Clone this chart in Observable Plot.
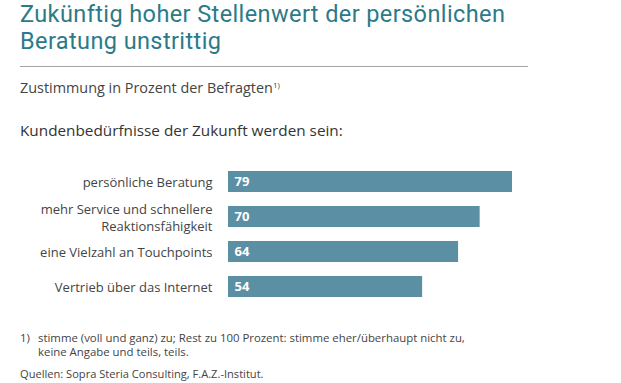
<!DOCTYPE html>
<html>
<head>
<meta charset="utf-8">
<script src="https://cdn.jsdelivr.net/npm/d3@7"></script>
<script src="https://cdn.jsdelivr.net/npm/@observablehq/plot@0.6"></script>
<style>
  html, body { margin: 0; padding: 0; background: #fff; }
  #wrap { position: relative; width: 621px; height: 383px; overflow: hidden; font-family: "Open Sans", Lato, sans-serif; color: #444; }
  .abs { position: absolute; white-space: nowrap; }
  .title { left: 20px; font-family: Roboto, "Open Sans", sans-serif; font-size: 23.5px; line-height: 27px; letter-spacing: 0.4px; color: #2c7a88; }
  #t1 { top: 1px; }
  #t2 { top: 27.5px; }
  #rule { left: 20px; top: 66px; width: 508px; height: 0; border-top: 1.5px solid #a3a3a3; }
  #sub { left: 20px; top: 79px; font-size: 14.4px; line-height: 18px; }
  #sub sup { font-size: 8px; vertical-align: 5px; line-height: 0; }
  #head { left: 20px; top: 121px; font-size: 15.3px; line-height: 18px; color: #333; }
  #chart { left: 0; top: 150px; }
  #fn1 { left: 20px; top: 331px; font-size: 11.4px; line-height: 14px; }
  #fn1 .num { position: absolute; left: 0; top: 0; }
  #fn1 .txt { position: absolute; left: 18px; top: 0; }
  #src { left: 20px; top: 367px; font-size: 11.1px; line-height: 14px; }
</style>
</head>
<body>
<div id="wrap">
  <div id="t1" class="abs title">Zukünftig hoher Stellenwert der persönlichen</div>
  <div id="t2" class="abs title">Beratung unstrittig</div>
  <div id="rule" class="abs"></div>
  <div id="sub" class="abs">Zustimmung in Prozent der Befragten<sup>1)</sup></div>
  <div id="head" class="abs">Kundenbedürfnisse der Zukunft werden sein:</div>
  <div id="chart" class="abs"></div>
  <div id="fn1" class="abs"><span class="num">1)</span><span class="txt">stimme (voll und ganz) zu; Rest zu 100 Prozent: stimme eher/überhaupt nicht zu,<br>keine Angabe und teils, teils.</span></div>
  <div id="src" class="abs">Quellen: Sopra Steria Consulting, F.A.Z.-Institut.</div>
</div>
<script>
const categories = [
  "persönliche Beratung",
  "mehr Service und schnellere\nReaktionsfähigkeit",
  "eine Vielzahl an Touchpoints",
  "Vertrieb über das Internet"
];
const values = [79, 70, 64, 54];

const data = categories.map((c, i) => ({category: c, value: values[i]}));

const chart = Plot.plot({
  width: 621,
  height: 160,
  marginTop: 12,
  marginBottom: 5,
  marginLeft: 228,
  marginRight: 109,
  style: {fontFamily: "'Open Sans', Lato, sans-serif", background: "transparent"},
  x: {domain: [0, 79], axis: null},
  y: {domain: categories, paddingInner: 0.4, paddingOuter: 0.2, axis: null},
  marks: [
    Plot.barX(data, {x: "value", y: "category", fill: "#5b8fa4"}),
    Plot.text(data, {x: 0, y: "category", text: "category", textAnchor: "end", dx: -16, fontSize: 13, lineHeight: 1.3, fill: "#444"}),
    Plot.text(data, {x: 0, y: "category", text: d => String(d.value), textAnchor: "start", dx: 6, fontSize: 13, fontWeight: "bold", fill: "white"})
  ]
});
document.getElementById("chart").appendChild(chart);
</script>
</body>
</html>
